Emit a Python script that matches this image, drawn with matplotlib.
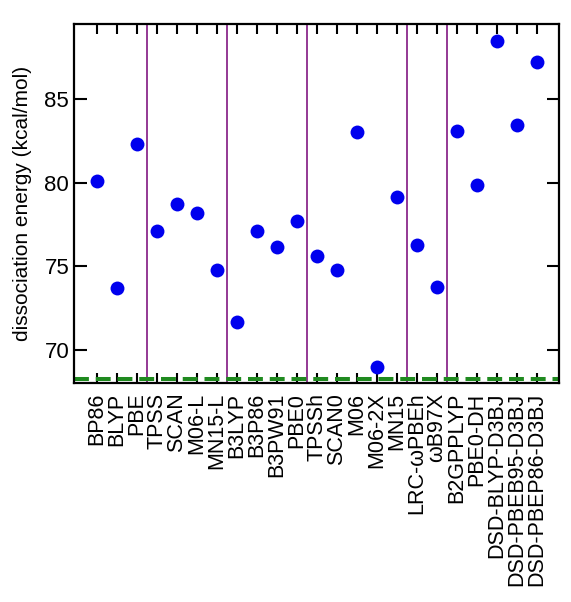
import matplotlib
matplotlib.use('Agg')
import matplotlib.pyplot as plt

plt.rcParams['font.family'] = ['Liberation Sans', 'DejaVu Sans']

functionals = ['BP86', 'BLYP', 'PBE', 'TPSS', 'SCAN', 'M06-L', 'MN15-L',
               'B3LYP', 'B3P86', 'B3PW91', 'PBE0', 'TPSSh', 'SCAN0', 'M06',
               'M06-2X', 'MN15', 'LRC-ωPBEh', 'ωB97X', 'B2GPPLYP', 'PBE0-DH',
               'DSD-BLYP-D3BJ', 'DSD-PBEB95-D3BJ', 'DSD-PBEP86-D3BJ']
energies = [80.1, 73.7, 82.3, 77.1, 78.7, 78.2, 74.8,
            71.7, 77.1, 76.15, 77.7, 75.65, 74.8, 83.0,
            69.0, 79.15, 76.3, 73.8, 83.1, 79.85,
            88.45, 83.45, 87.2]
reference = 68.3
group_breaks = [2.5, 6.5, 10.5, 15.5, 17.5]

fig = plt.figure(figsize=(5.71, 6.02), dpi=100)
ax = fig.add_axes([0.1296, 0.3638, 0.8494, 0.5963])

x = list(range(len(functionals)))

for b in group_breaks:
    ax.axvline(b, color='#8b2a8b', lw=1.3, zorder=1)

ax.axhline(reference, color='#1f8a1f', lw=2.9, dashes=(3.7, 1.7), zorder=2)
ax.plot(x, energies, 'o', color='#0000ee', ms=10, mec='none', zorder=3)

ax.set_xlim(-1.15, 23.1)
ax.set_ylim(68.05, 89.45)
ax.set_yticks([70, 75, 80, 85])
ax.set_xticks(x)
ax.set_xticklabels(functionals, rotation=90, fontsize=15.5)
ax.set_ylabel('dissociation energy (kcal/mol)', fontsize=15, labelpad=9)

ax.tick_params(axis='both', direction='in', width=1.5, length=8,
               top=True, right=True)
ax.tick_params(axis='y', labelsize=16, length=9)
ax.tick_params(axis='x', pad=7, length=7)
for s in ax.spines.values():
    s.set_linewidth(1.6)

fig.savefig('out.png', dpi=100)
